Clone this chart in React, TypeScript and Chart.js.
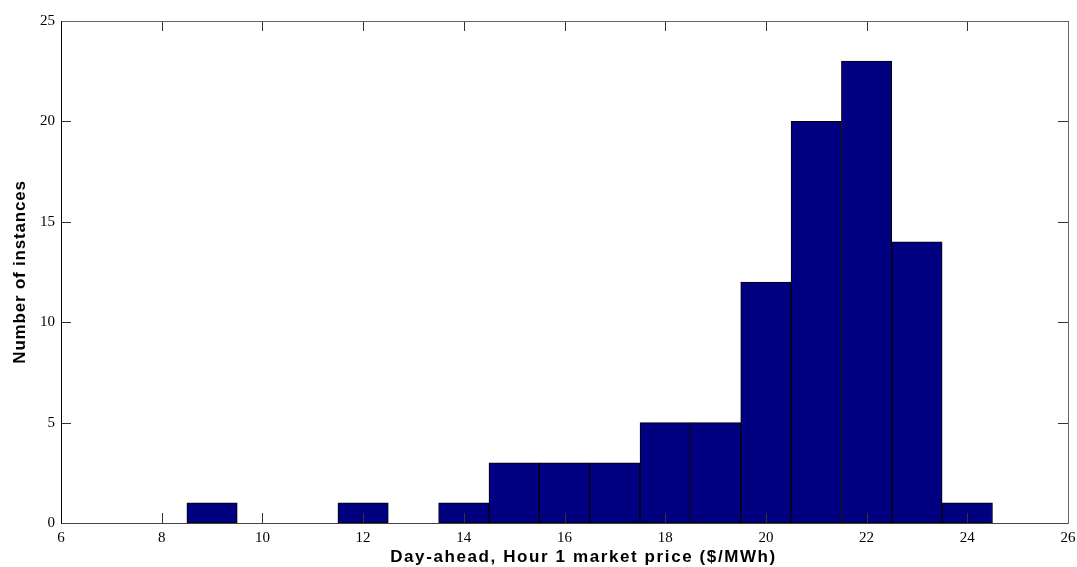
import React, { useEffect, useRef } from "react";
import { Chart, registerables } from "chart.js";

Chart.register(...registerables);

const binCenters = [9, 12, 14, 15, 16, 17, 18, 19, 20, 21, 22, 23, 24];
const counts = [1, 1, 1, 3, 3, 3, 5, 5, 12, 20, 23, 14, 1];
const xTickValues = [6, 8, 10, 12, 14, 16, 18, 20, 22, 24, 26];
const yTickValues = [0, 5, 10, 15, 20, 25];
const xTitle = "Day-ahead, Hour 1 market price ($/MWh)";
const yTitle = "Number of instances";

const framePlugin = {
  id: "matlabFrame",
  afterDatasetsDraw(chart: any) {
    const { ctx, chartArea: a, scales } = chart;
    const xs = scales.x;
    const ys = scales.y;
    const T = 10;
    ctx.save();
    ctx.lineWidth = 1;
    ctx.strokeStyle = "#333";
    ctx.beginPath();
    xTickValues.forEach((v) => {
      const px = Math.round(xs.getPixelForValue(v)) + 0.5;
      ctx.moveTo(px, a.bottom);
      ctx.lineTo(px, a.bottom - T);
      ctx.moveTo(px, a.top);
      ctx.lineTo(px, a.top + T);
    });
    yTickValues.forEach((v) => {
      const py = Math.round(ys.getPixelForValue(v)) + 0.5;
      ctx.moveTo(a.left, py);
      ctx.lineTo(a.left + T, py);
      ctx.moveTo(a.right, py);
      ctx.lineTo(a.right - T, py);
    });
    ctx.stroke();

    const L = Math.round(a.left) + 0.5;
    const R = Math.round(a.right) + 0.5;
    const Tp = Math.round(a.top) + 0.5;
    const B = Math.round(a.bottom) + 0.5;
    ctx.strokeStyle = "#666";
    ctx.beginPath();
    ctx.moveTo(L, Tp);
    ctx.lineTo(R, Tp);
    ctx.lineTo(R, B);
    ctx.stroke();
    ctx.strokeStyle = "#444";
    ctx.beginPath();
    ctx.moveTo(L, B);
    ctx.lineTo(R, B);
    ctx.stroke();
    ctx.strokeStyle = "#000";
    ctx.beginPath();
    ctx.moveTo(L, Tp);
    ctx.lineTo(L, B);
    ctx.stroke();

    // axis titles
    ctx.fillStyle = "#000";
    ctx.textAlign = "center";
    ctx.textBaseline = "middle";
    ctx.font = "bold 17px 'Liberation Sans', Arial, sans-serif";
    (ctx as any).letterSpacing = "1.6px";
    ctx.fillText(xTitle, (a.left + a.right) / 2 + 19, chart.height - 10);
    (ctx as any).letterSpacing = "0.8px";
    ctx.translate(20, (a.top + a.bottom) / 2);
    ctx.rotate(-Math.PI / 2);
    ctx.fillText(yTitle, 0, 0);
    ctx.restore();
  },
};

export default function App() {
  const canvasRef = useRef<HTMLCanvasElement | null>(null);

  useEffect(() => {
    const canvas = canvasRef.current;
    if (!canvas) return;
    const tickFont = { family: "'Liberation Serif', 'Times New Roman', serif", size: 15 };
    const chart = new Chart(canvas, {
      type: "bar",
      data: {
        datasets: [
          {
            data: binCenters.map((c, i) => ({ x: c, y: counts[i] })),
            backgroundColor: "#000080",
            borderColor: "#000000",
            borderWidth: 1,
            borderSkipped: false,
            categoryPercentage: 1,
            barPercentage: 1,
          },
        ],
      },
      options: {
        animation: false,
        responsive: true,
        maintainAspectRatio: false,
        layout: { padding: { top: 21, right: 9, left: 0, bottom: 0 } },
        plugins: {
          legend: { display: false },
          tooltip: { enabled: false },
        },
        scales: {
          x: {
            type: "linear",
            min: 6,
            max: 26,
            offset: false,
            grid: { display: false, drawTicks: false },
            border: { display: false },
            ticks: { color: "#000", font: tickFont, padding: 6, maxRotation: 0, autoSkip: false },
            afterBuildTicks: (s: any) => {
              s.ticks = xTickValues.map((v) => ({ value: v }));
            },
            afterFit: (s: any) => {
              s.height = 44;
              s.paddingLeft = 0;
              s.paddingRight = 0;
            },
          },
          y: {
            type: "linear",
            min: 0,
            max: 25,
            grid: { display: false, drawTicks: false },
            border: { display: false },
            ticks: { color: "#000", font: tickFont, padding: 6, autoSkip: false },
            afterBuildTicks: (s: any) => {
              s.ticks = yTickValues.map((v) => ({ value: v }));
            },
            afterFit: (s: any) => {
              s.width = 61;
              s.paddingTop = 0;
              s.paddingBottom = 0;
            },
          },
        },
      },
      plugins: [framePlugin],
    } as any);
    return () => chart.destroy();
  }, []);

  return (
    <div style={{ position: "absolute", left: 0, top: 0, width: 1077, height: 567, background: "#fff" }}>
      <canvas ref={canvasRef} />
    </div>
  );
}
